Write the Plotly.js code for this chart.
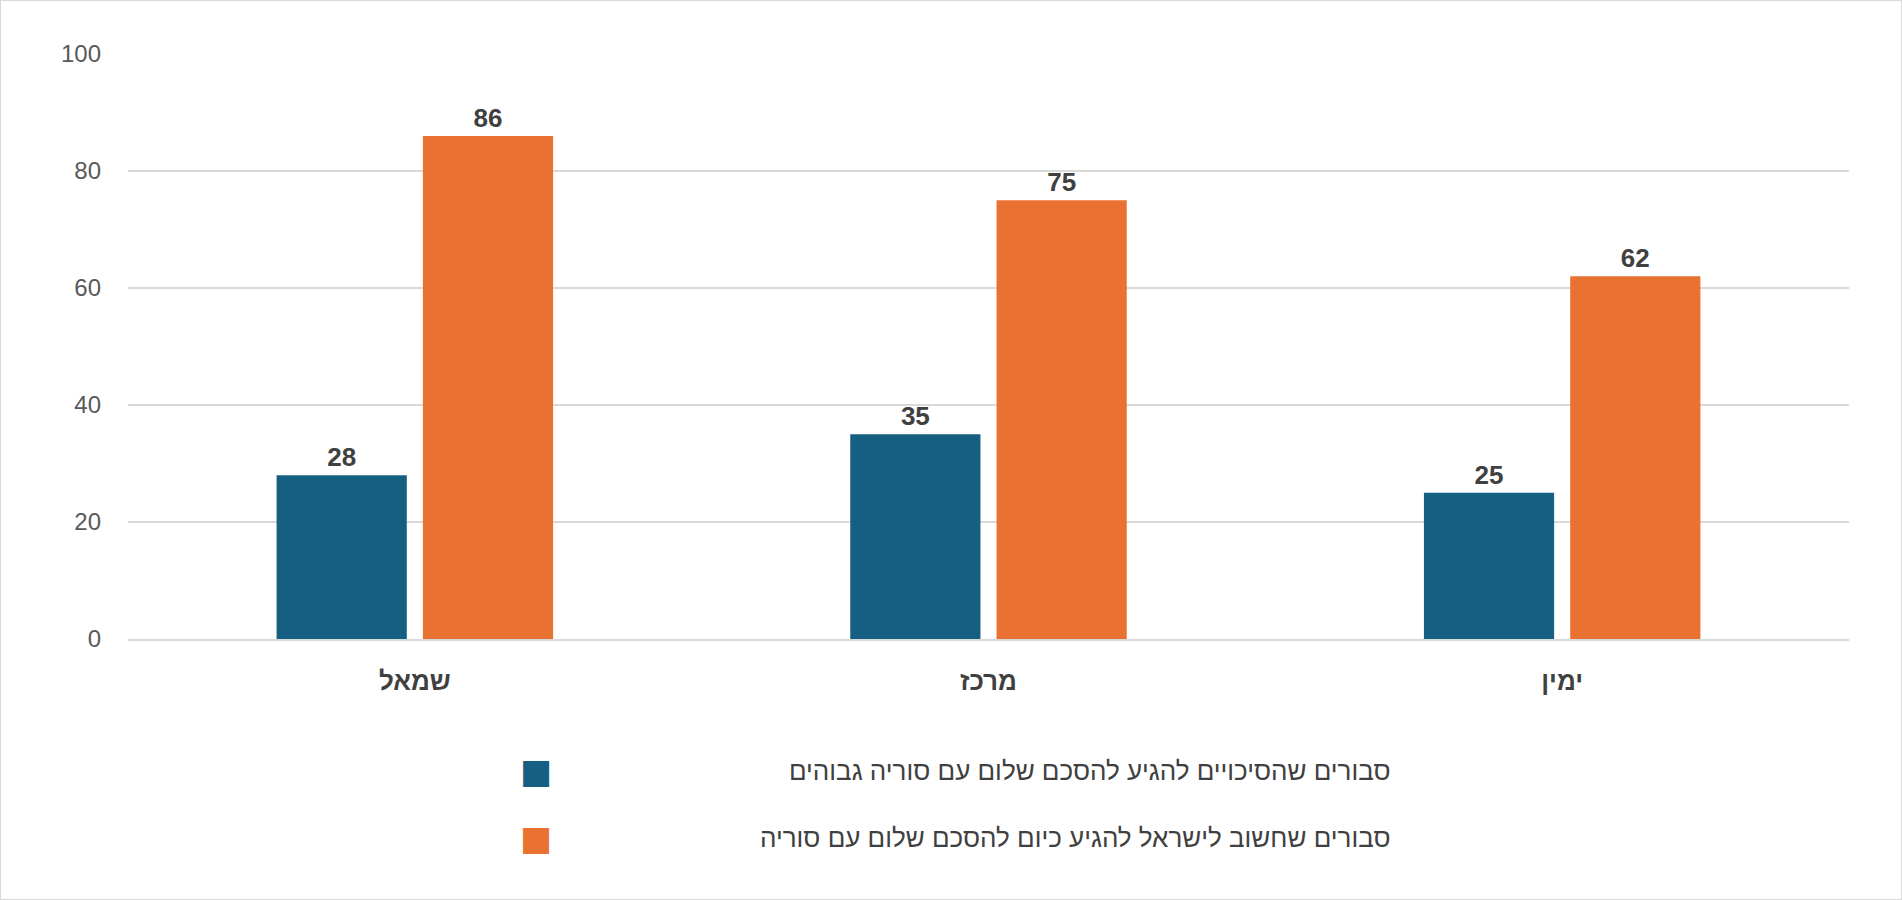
<!DOCTYPE html>
<html>
<head>
<meta charset="utf-8">
<script src="https://cdn.plot.ly/plotly-3.0.1.min.js"></script>
<style>
  body { margin: 0; background: #fff; }
  #chart { width: 1900px; height: 898px; border: 1px solid #d9d9d9; }
</style>
</head>
<body>
<div id="chart"></div>
<script>
const categories = ['שמאל', 'מרכז', 'ימין'];
const seriesNames = [
  'סבורים שהסיכויים להגיע להסכם שלום עם סוריה גבוהים',
  'סבורים שחשוב לישראל להגיע כיום להסכם שלום עם סוריה'
];
const chancesHigh = [28, 35, 25];
const importantNow = [86, 75, 62];
const colors = ['#156082', '#E97132'];

const FONT = 'Liberation Sans, Arial, sans-serif';

const traces = [chancesHigh, importantNow].map((vals, i) => ({
  type: 'bar',
  x: categories,
  y: vals,
  name: seriesNames[i],
  marker: { color: colors[i] },
  text: vals.map(String),
  textposition: 'outside',
  cliponaxis: false,
  textfont: { family: FONT, size: 26, color: '#404040', weight: 'bold' },
  hoverinfo: 'x+y'
}));

// legend drawn as annotations so the swatch sits at the left of RTL text
const legendY = [-0.226, -0.34];
const annotations = [];
seriesNames.forEach((n, i) => {
  annotations.push({
    xref: 'paper', yref: 'paper', x: 0.735, y: legendY[i],
    xanchor: 'right', yanchor: 'middle', showarrow: false,
    text: n, font: { family: FONT, size: 26, color: '#404040' }
  });
  annotations.push({
    xref: 'paper', yref: 'paper', x: 0.237, y: legendY[i],
    xanchor: 'center', yanchor: 'middle', showarrow: false,
    text: '■', font: { family: 'DejaVu Sans', size: 34, color: colors[i] }
  });
});

const layout = {
  width: 1900, height: 898,
  margin: { l: 127, r: 52, t: 53, b: 260 },
  paper_bgcolor: '#FFFFFF',
  plot_bgcolor: '#FFFFFF',
  barmode: 'group',
  bargap: 0.49,
  bargroupgap: 0.11,
  showlegend: false,
  xaxis: {
    showline: true, linecolor: '#d9d9d9', linewidth: 1.5,
    tickfont: { family: FONT, size: 26, color: '#404040', weight: 'bold' },
    ticks: '', ticklabelstandoff: 18
  },
  yaxis: {
    range: [0, 100], dtick: 20,
    gridcolor: '#d9d9d9', gridwidth: 1.5, zeroline: false,
    tickfont: { family: FONT, size: 24, color: '#595959' },
    ticklabelstandoff: 26
  },
  annotations: annotations,
  font: { family: FONT }
};

Plotly.newPlot('chart', traces, layout, { displayModeBar: false });
</script>
</body>
</html>
